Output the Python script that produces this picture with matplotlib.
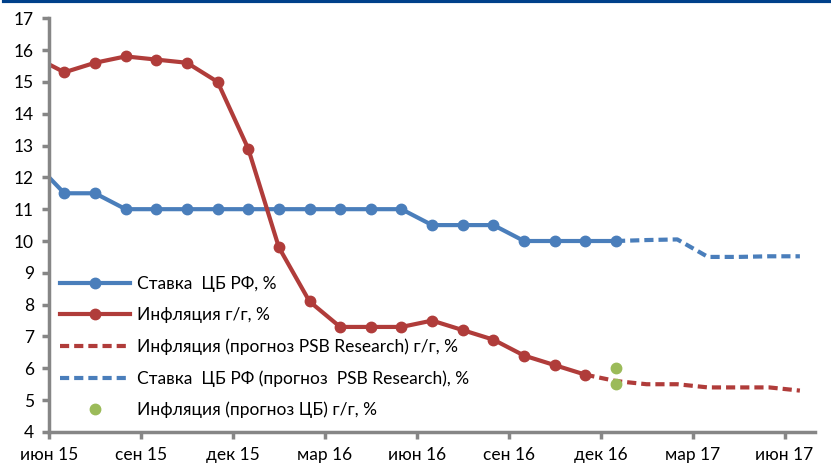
import matplotlib
matplotlib.use("Agg")
import matplotlib.pyplot as plt
from matplotlib.lines import Line2D

plt.rcParams['font.family'] = ['Lato', 'DejaVu Sans']

# месяцы: май 15 (за краем оси) ... ноя 16 / дек 16
rate = [12.5, 11.5, 11.5, 11.0, 11.0, 11.0, 11.0, 11.0, 11.0, 11.0, 11.0, 11.0, 11.0,
        10.5, 10.5, 10.5, 10.0, 10.0, 10.0, 10.0]          # май 15 - дек 16
infl = [15.8, 15.3, 15.6, 15.8, 15.7, 15.6, 15.0, 12.9, 9.8, 8.1, 7.3, 7.3, 7.3,
        7.5, 7.2, 6.9, 6.4, 6.1, 5.8]                      # май 15 - ноя 16
infl_fc = [5.8, 5.6, 5.5, 5.5, 5.4, 5.4, 5.4, 5.3]         # ноя 16 - июн 17
rate_fc = [10.0, 10.03, 10.05, 9.5, 9.5, 9.52, 9.52]       # дек 16 - июн 17
cb_fc = [6.0, 5.5]                                         # дек 16
tick_labels = ['июн 15', 'сен 15', 'дек 15', 'мар 16', 'июн 16',
               'сен 16', 'дек 16', 'мар 17', 'июн 17']

blue = '#4A7EBB'
red = '#B03C3A'
green = '#9BBB59'
gray = '#868686'

fig = plt.figure(figsize=(8.31, 4.67), dpi=100)
ax = fig.add_axes([0.059, 0.075, 0.922, 0.886])

# x: месяцы от июн 15 (0), точки в середине месяца
x_rate = [i - 0.5 for i in range(len(rate))]
x_infl = [i - 0.5 for i in range(len(infl))]
x_infl_fc = [x_infl[-1] + i for i in range(len(infl_fc))]
x_rate_fc = [x_rate[-1] + i for i in range(len(rate_fc))]
x_cb = [x_rate[-1]] * len(cb_fc)

ax.plot(x_rate_fc, rate_fc, '--', color=blue, lw=3, dashes=(2.2, 1.2))
ax.plot(x_infl_fc, infl_fc, '--', color=red, lw=3, dashes=(2.2, 1.2))
ax.plot(x_rate, rate, '-o', color=blue, lw=3, ms=7.5)
ax.plot(x_infl, infl, '-o', color=red, lw=3, ms=7.5)
ax.plot(x_cb, cb_fc, 'o', color=green, ms=7.5, zorder=5)

ax.set_xlim(0, 25)
ax.set_ylim(4, 17)
ax.set_yticks(range(4, 18))
ax.set_xticks(range(0, 25, 3))
ax.set_xticklabels(tick_labels)

for s in ['top', 'right']:
    ax.spines[s].set_visible(False)
for s in ['left', 'bottom']:
    ax.spines[s].set_color(gray)
    ax.spines[s].set_linewidth(2.5)
ax.tick_params(colors=gray, width=2.5, length=5, labelsize=12.5, labelcolor='black', pad=6)

handles = [
    Line2D([], [], color=blue, lw=3, marker='o', ms=7.5),
    Line2D([], [], color=red, lw=3, marker='o', ms=7.5),
    Line2D([], [], color=red, lw=3, ls='--', dashes=(2.2, 1.2)),
    Line2D([], [], color=blue, lw=3, ls='--', dashes=(2.2, 1.2)),
    Line2D([], [], color=green, ls='none', marker='o', ms=7.5),
]
labels = ['Ставка  ЦБ РФ, %', 'Инфляция г/г, %',
          'Инфляция (прогноз PSB Research) г/г, %',
          'Ставка  ЦБ РФ (прогноз  PSB Research), %',
          'Инфляция (прогноз ЦБ) г/г, %']
ax.legend(handles, labels, loc='lower left', bbox_to_anchor=(-0.006, -0.005),
          frameon=False, fontsize=12.5, handlelength=4.0, handletextpad=0.45,
          labelspacing=0.88)

fig.add_artist(Line2D([0.005, 1.0], [0.998, 0.998], color='#00408A', lw=3,
                      transform=fig.transFigure))

fig.savefig('out.png', dpi=100)
